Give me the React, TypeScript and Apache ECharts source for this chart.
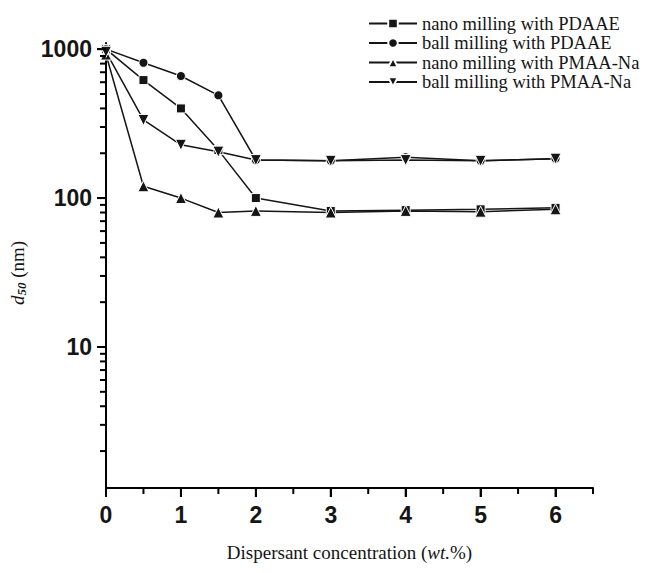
import React, { useEffect, useRef } from "react";
import * as echarts from "echarts";

// Dispersant concentration (wt.%)
const xValues = [0, 0.5, 1, 1.5, 2, 3, 4, 5, 6];

// d50 (nm) for each series
const nanoPDAAE = [1000, 620, 400, 210, 100, 82, 83, 84, 86];
const ballPDAAE = [1000, 810, 660, 490, 180, 178, 188, 178, 184];
const nanoPMAA = [920, 120, 100, 80, 82, 80, 82, 81, 84];
const ballPMAA = [960, 335, 228, 205, 180, 178, 180, 178, 184];

const seriesNames = [
  "nano milling with PDAAE",
  "ball milling with PDAAE",
  "nano milling with PMAA-Na",
  "ball milling with PMAA-Na",
];

const xTickLabels = [0, 1, 2, 3, 4, 5, 6];
const xMinorTicks = [0.5, 1.5, 2.5, 3.5, 4.5, 5.5, 6.5];
const yTickLabels = [10, 100, 1000];
const yMinorTicks = [2, 3, 4, 5, 6, 7, 8, 9, 20, 30, 40, 50, 60, 70, 80, 90, 200, 300, 400, 500, 600, 700, 800, 900];

const X_MIN = 0;
const X_MAX = 6.5;
const Y_MIN = 1.13;
const Y_MAX = 1100;

const INV_TRI = "path://M0,0 L10,0 L5,9 Z";

export default function App() {
  const ref = useRef<HTMLDivElement>(null);

  useEffect(() => {
    document.body.style.margin = "0";
    if (!ref.current) return;
    const chart = echarts.init(ref.current, undefined, { renderer: "svg" });
    const ink = "#151515";
    const sansLabel = {
      fontFamily: "Liberation Sans",
      fontSize: 23,
      fontWeight: "bold" as const,
      color: ink,
      formatter: (v: number) => String(v),
    };
    const mk = (vals: number[]) => vals.map((v, i) => [xValues[i], v]);
    const symbols = ["rect", "circle", "triangle", INV_TRI];
    const sizes = [9, 9, 11, 11];
    const datasets = [nanoPDAAE, ballPDAAE, nanoPMAA, ballPMAA];

    // tick marks placed through the axes' own scales (api.coord)
    const tickSeries = (data: number[][], dx: number, dy: number) => ({
      type: "custom",
      xAxisIndex: 0,
      yAxisIndex: 0,
      clip: false,
      silent: true,
      z: 5,
      data,
      renderItem: (_params: any, api: any) => {
        const p = api.coord([api.value(0), api.value(1)]);
        return {
          type: "line",
          shape: { x1: p[0], y1: p[1], x2: p[0] + dx, y2: p[1] + dy },
          style: { stroke: "#000", lineWidth: 2 },
        };
      },
    });

    chart.setOption({
      animation: false,
      grid: {
        left: 105,
        right: 59,
        top: 43,
        bottom: 85,
        containLabel: false,
      },
      legend: {
        left: 368,
        top: 14,
        padding: 0,
        orient: "vertical",
        itemWidth: 48,
        itemHeight: 12,
        itemGap: 0.5,
        data: seriesNames,
        textStyle: {
          fontFamily: "Liberation Serif",
          fontSize: 18.5,
          lineHeight: 19,
          color: ink,
        },
      },
      xAxis: {
        type: "value",
        min: X_MIN,
        max: X_MAX,
        splitLine: { show: false },
        axisLine: { show: true, lineStyle: { color: "#000", width: 2 } },
        axisTick: { show: true, customValues: xTickLabels, length: 9, lineStyle: { color: "#000", width: 2 } },
        axisLabel: { customValues: xTickLabels, margin: 15, ...sansLabel },
        name: "Dispersant concentration ({it|wt.}%)",
        nameLocation: "middle",
        nameGap: 55,
        nameTextStyle: {
          fontFamily: "Liberation Serif",
          fontSize: 19,
          color: ink,
          rich: {
            it: { fontFamily: "Liberation Serif", fontSize: 19, fontStyle: "italic", color: ink },
          },
        },
      },
      yAxis: {
        type: "log",
        min: Y_MIN,
        max: Y_MAX,
        splitLine: { show: false },
        axisLine: { show: true, lineStyle: { color: "#000", width: 2 } },
        axisTick: { show: true, customValues: yTickLabels, length: 9, lineStyle: { color: "#000", width: 2 } },
        axisLabel: { customValues: yTickLabels, margin: 14, ...sansLabel },
        name: "{d|d}{s|50} (nm)",
        nameLocation: "middle",
        nameRotate: 90,
        nameGap: 78,
        nameTextStyle: {
          fontFamily: "Liberation Serif",
          fontSize: 19,
          color: ink,
          padding: [0, 15, 0, 0],
          rich: {
            d: { fontFamily: "Liberation Serif", fontSize: 19, fontStyle: "italic", color: ink },
            s: {
              fontFamily: "Liberation Serif",
              fontSize: 13,
              fontStyle: "italic",
              fontWeight: "bold",
              color: ink,
              padding: [8, 0, 0, 0],
            },
          },
        },
      },
      series: [
        ...datasets.map((vals, i) => ({
          name: seriesNames[i],
          type: "line",
          data: mk(vals),
          symbol: symbols[i],
          symbolSize: sizes[i],
          showSymbol: true,
          lineStyle: { color: ink, width: 1.5 },
          itemStyle: { color: ink, borderColor: "#ffffff", borderWidth: 1 },
          emphasis: { disabled: true },
        })),
        tickSeries(yTickLabels.map((v) => [X_MIN, v]), -9, 0),
        tickSeries(yMinorTicks.map((v) => [X_MIN, v]), -6, 0),
        tickSeries(xTickLabels.map((v) => [v, Y_MIN]), 0, 9),
        tickSeries(xMinorTicks.map((v) => [v, Y_MIN]), 0, 6),
      ],
    });
    return () => chart.dispose();
  }, []);

  return <div ref={ref} style={{ width: 652, height: 573 }} />;
}
